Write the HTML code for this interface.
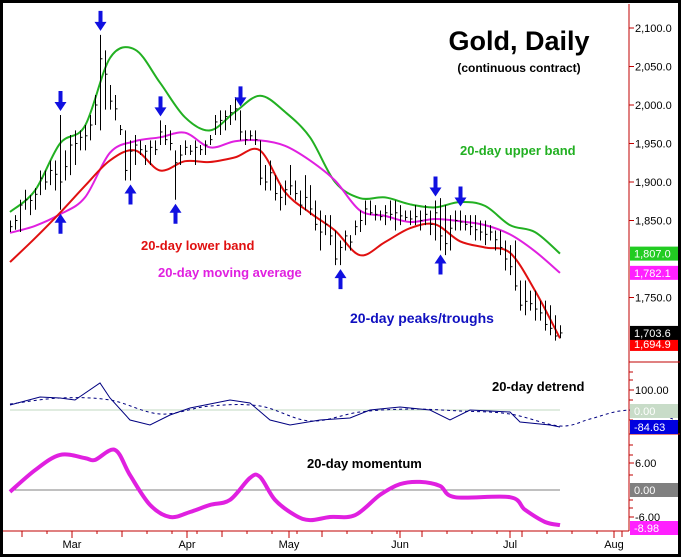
<!DOCTYPE html>
<html><head><meta charset="utf-8">
<style>
html,body{margin:0;padding:0;background:#fff;}
svg{display:block;font-family:"Liberation Sans",Arial,sans-serif;}
</style></head>
<body>
<svg id="chart" width="682" height="558" viewBox="0 0 682 558" xmlns="http://www.w3.org/2000/svg">
<rect x="1.5" y="1.5" width="678" height="554" fill="#fff" stroke="#000" stroke-width="3"/>
<g id="price"></g>
<g id="det"></g>
<g id="mom"></g>
<g id="axes"></g>
<text x="519" y="50" font-size="27" font-weight="bold" text-anchor="middle">Gold, Daily</text>
<text x="519" y="72" font-size="12" font-weight="bold" text-anchor="middle">(continuous contract)</text>
<text x="460" y="155" font-size="13" font-weight="bold" fill="#22b022">20-day upper band</text>
<text x="141" y="250" font-size="13" font-weight="bold" fill="#e01010">20-day lower band</text>
<text x="158" y="277" font-size="13" font-weight="bold" fill="#e020e0">20-day moving average</text>
<text x="350" y="323" font-size="14" font-weight="bold" fill="#1010c0">20-day peaks/troughs</text>
<text x="492" y="391" font-size="13" font-weight="bold">20-day detrend</text>
<text x="307" y="468" font-size="13" font-weight="bold">20-day momentum</text>
</svg>
<script>
const highs=[1850,1857,1877,1890,1883,1892,1915,1915,1928,1928,1987,1941,1961,1967,1967,1974,1987,2013,2091,2071,2026,2013,1974,1967,1954,1961,1954,1948,1954,1954,1980,1974,1967,1941,1948,1954,1948,1954,1948,1954,1961,1987,1993,1993,2000,2010,1993,1967,1967,1967,1954,1922,1928,1909,1896,1902,1922,1902,1889,1909,1896,1876,1863,1857,1857,1837,1824,1837,1831,1850,1863,1876,1876,1870,1863,1870,1876,1876,1870,1863,1863,1870,1863,1870,1863,1876,1879,1870,1857,1863,1863,1857,1857,1857,1850,1850,1844,1837,1837,1824,1818,1824,1772,1772,1759,1759,1746,1746,1740,1727,1714];
const lows=[1835,1838,1835,1864,1857,1864,1883,1890,1896,1889,1864,1902,1909,1922,1941,1941,1954,1974,1967,1994,1994,1980,1961,1902,1902,1922,1935,1922,1922,1935,1948,1948,1941,1877,1922,1935,1935,1922,1935,1935,1948,1961,1961,1967,1974,1980,1954,1948,1954,1948,1896,1889,1889,1876,1863,1870,1883,1876,1857,1863,1857,1837,1811,1831,1818,1792,1792,1811,1811,1831,1835,1844,1857,1850,1850,1844,1850,1837,1844,1850,1844,1844,1837,1844,1831,1824,1811,1805,1811,1837,1837,1837,1831,1824,1824,1818,1824,1811,1805,1785,1779,1759,1733,1727,1733,1720,1720,1707,1701,1694,1697];
const closes=[1842,1850,1870,1877,1876,1884,1905,1900,1915,1910,1900,1920,1948,1950,1958,1960,1974,2000,2060,2040,2005,1995,1968,1915,1940,1948,1942,1940,1945,1942,1965,1955,1950,1925,1935,1945,1940,1945,1942,1948,1955,1978,1980,1985,1990,1995,1965,1955,1960,1955,1905,1900,1912,1885,1880,1890,1895,1885,1870,1880,1865,1845,1835,1845,1830,1800,1815,1830,1822,1842,1850,1865,1860,1858,1855,1860,1858,1860,1856,1854,1852,1855,1850,1858,1845,1860,1830,1820,1840,1850,1848,1845,1842,1838,1835,1832,1835,1825,1815,1800,1790,1765,1740,1745,1742,1735,1730,1715,1710,1700,1704];
const bandIdx=[0,5,10,15,20,25,30,35,40,45,50,55,60,65,70,75,80,85,90,95,100,105,110];
const upperBand=[1861,1889,1950,1973,2061,2072,2029,1984,1967,1991,2012,1991,1958,1900,1879,1880,1871,1867,1874,1869,1844,1835,1807];
const movingAvg=[1834,1843,1858,1880,1938,1953,1958,1964,1945,1953,1954,1947,1928,1902,1863,1856,1848,1852,1849,1844,1832,1810,1782];
const lowerBand=[1796,1827,1860,1895,1928,1941,1915,1927,1926,1932,1941,1887,1860,1837,1805,1822,1840,1845,1823,1815,1808,1759,1697];
const peakIdx=[10,18,30,46,85,90];
const troughIdx=[10,24,33,66,86];
const detIdx=[0,6,10,13,18,20,24,28,32,36,44,48,52,56,62,68,72,78,84,88,92,100,102,108,110];
const detrend=[25,65,60,50,135,60,-50,-75,-25,10,50,35,-50,-75,-50,-40,0,15,0,-50,0,-10,-60,-75,-85];
const detDashIdx=[0,10,20,30,40,50,60,70,80,90,100,110,116,122,128,134];
const detDash=[30,60,50,-20,20,20,-55,-10,5,-5,-20,-80,-45,-5,-5,-60];
const momIdx=[0,5,10,15,17,21,24,28,32,36,40,44,48,50,53,57,60,64,69,74,78,82,86,89,100,103,107,110];
const momentum=[-0.4,4.4,7.8,7.1,6.7,8.9,3.3,-3.3,-6,-4.9,-3.3,-2.2,2.7,2.9,-2.2,-5.6,-6.7,-6,-5.6,-1.1,1.3,1.8,0.9,-1.6,-1.6,-4.4,-7.1,-7.8];
const priceTicks=[2100,2050,2000,1950,1900,1850,1750];
const detTicks=[100];
const momTicks=[6,-6];
const months=["Mar","Apr","May","Jun","Jul","Aug"];
const monthIdx=[12.4,35.4,55.8,78,100,120.8];

const NS="http://www.w3.org/2000/svg";
const X=i=>10+i*5;
const PY=p=>28+(2100-p)*0.77;
const DY=v=>410-v*0.2;
const MY=v=>490-v*4.5;
function mk(tag,attrs,parent){const e=document.createElementNS(NS,tag);for(const k in attrs)e.setAttribute(k,attrs[k]);parent.appendChild(e);return e;}
function smooth(pts){let d="M"+pts[0][0]+","+pts[0][1];for(let i=0;i<pts.length-1;i++){const p0=pts[i-1]||pts[i],p1=pts[i],p2=pts[i+1],p3=pts[i+2]||p2;const c1x=p1[0]+(p2[0]-p0[0])/6,c1y=p1[1]+(p2[1]-p0[1])/6,c2x=p2[0]-(p3[0]-p1[0])/6,c2y=p2[1]-(p3[1]-p1[1])/6;d+=` C${c1x.toFixed(1)},${c1y.toFixed(1)} ${c2x.toFixed(1)},${c2y.toFixed(1)} ${p2[0]},${p2[1].toFixed(1)}`;}return d;}
const gP=document.getElementById('price'),gD=document.getElementById('det'),gM=document.getElementById('mom'),gA=document.getElementById('axes');

// bands
[[upperBand,'#22b022','upper-band-line'],[movingAvg,'#e020e0','moving-average-line'],[lowerBand,'#e01010','lower-band-line']].forEach(s=>{
  const el=mk('path',{d:smooth(bandIdx.map((b,i)=>[X(b),PY(s[0][i])])),fill:'none',stroke:s[1],'stroke-width':2},gP);
  
  
});
// bars
highs.forEach((h,i)=>{
  const x=X(i)+0.5;
  const g=mk('g',{},gP);
  
  
  mk('line',{x1:x,x2:x,y1:PY(h),y2:PY(lows[i]),stroke:'#000','stroke-width':1},g);
  mk('line',{x1:x,x2:x+2,y1:PY(closes[i]),y2:PY(closes[i]),stroke:'#000','stroke-width':1},g);
});
// arrows
function arrow(i,down){
  const x=X(i)+0.5;
  let d;
  if(down){const yb=PY(highs[i])-4;d=`M${x-2},${yb-20}h4v11h4l-6,9l-6,-9h4z`;}
  else{const yt=PY(lows[i])+4;d=`M${x},${yt}l6,9h-4v11h-4v-11h-4z`;}
  const el=mk('path',{d:d,fill:'#1010e0'},gP);
  
  
}
peakIdx.forEach(i=>arrow(i,true));
troughIdx.forEach(i=>arrow(i,false));

// detrend
mk('line',{x1:10,x2:560,y1:DY(0),y2:DY(0),stroke:'#c0d8c0'},gD);
const dd=mk('path',{d:smooth(detDashIdx.map((b,i)=>[X(b),DY(detDash[i])])),fill:'none',stroke:'#000080','stroke-width':1,'stroke-dasharray':'3,3'},gD);


const ds=mk('polyline',{points:detIdx.map((b,i)=>X(b)+','+DY(detrend[i])).join(' '),fill:'none',stroke:'#000080','stroke-width':1},gD);



// momentum
mk('line',{x1:10,x2:560,y1:MY(0),y2:MY(0),stroke:'#808080'},gM);
const ml=mk('path',{d:smooth(momIdx.map((b,i)=>[X(b),MY(momentum[i])])),fill:'none',stroke:'#e020e0','stroke-width':4},gM);



// axes
const AX=629;
mk('line',{x1:AX,x2:AX,y1:4,y2:531,stroke:'#c00000'},gA);
mk('line',{x1:AX,x2:680,y1:362,y2:362,stroke:'#c00000'},gA);
mk('line',{x1:AX,x2:680,y1:434,y2:434,stroke:'#c00000'},gA);
mk('line',{x1:3,x2:AX,y1:531,y2:531,stroke:'#c00000'},gA);
function ylabel(y,t){mk('line',{x1:AX,x2:AX+5,y1:y,y2:y,stroke:'#c00000'},gA);const e=mk('text',{x:AX+6,y:y+4,'font-size':11},gA);e.textContent=t;}
priceTicks.forEach(p=>ylabel(PY(p),p.toLocaleString('en-US',{minimumFractionDigits:1})));
detTicks.forEach(v=>ylabel(DY(v)-20+20,v.toFixed(2)));
momTicks.forEach(v=>ylabel(MY(v),v.toFixed(2)));
[372,380,400,420,445,455,475,500,508].forEach(y=>mk('line',{x1:AX,x2:AX+4,y1:y,y2:y,stroke:'#c00000'},gA));
function box(y,bg,fg,t){const r=mk('rect',{x:AX+1,y:y-7,width:48,height:14,fill:bg},gA);const e=mk('text',{x:AX+5,y:y+4,'font-size':11,fill:fg},gA);e.textContent=t;}
box(PY(upperBand[upperBand.length-1]),'#22cc22','#fff','1,807.0');
box(PY(movingAvg[movingAvg.length-1]),'#ff20ff','#fff','1,782.1');
box(PY(1694.9)+4,'#ff0000','#fff','1,694.9');
box(PY(closes[closes.length-1]),'#000','#fff','1,703.6');
box(411,'#c8dcc8','#fff','0.00');
box(427,'#0000e0','#fff','-84.63');
box(490,'#808080','#fff','0.00');
box(528,'#ff20ff','#fff','-8.98');
for(let i=0;i<=123;i+=5)mk('line',{x1:X(i)+12,x2:X(i)+12,y1:531,y2:(i%20==0?537:534),stroke:'#c00000'},gA);
months.forEach((m,k)=>{const x=X(monthIdx[k]);mk('line',{x1:x,x2:x,y1:531,y2:538,stroke:'#c00000'},gA);const e=mk('text',{x:x,y:548,'font-size':11,'text-anchor':'middle'},gA);e.textContent=m;});
</script>
</body></html>
